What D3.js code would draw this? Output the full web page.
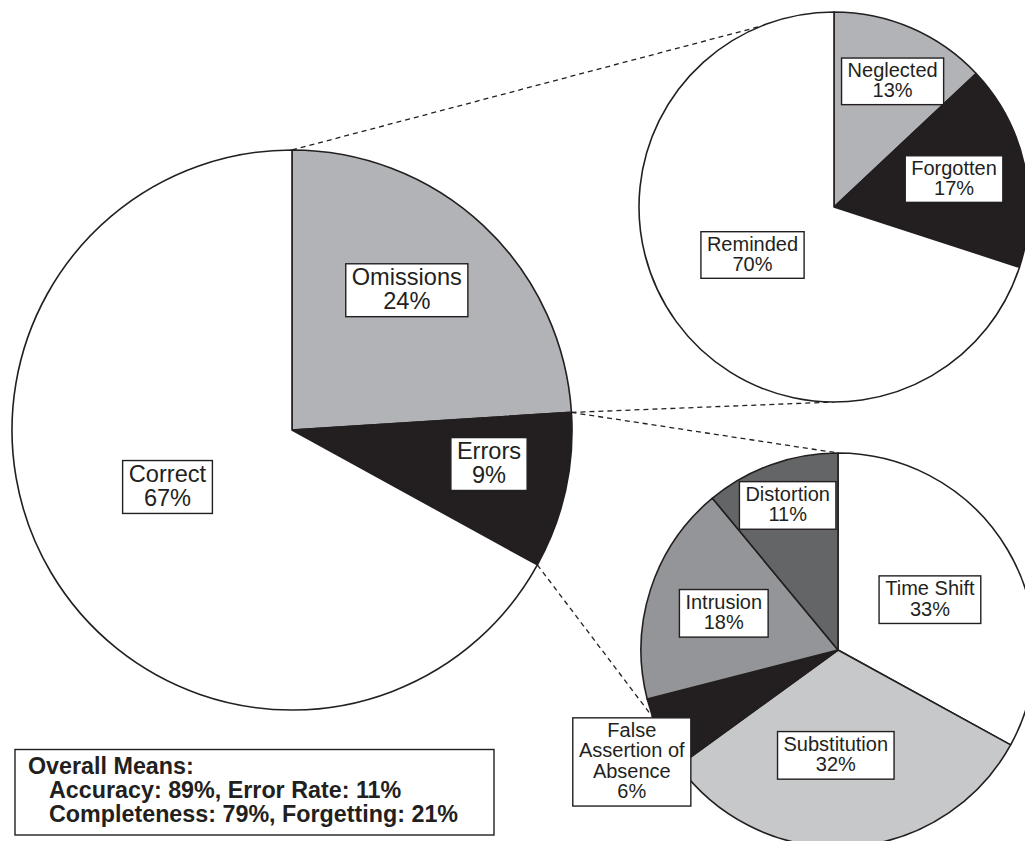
<!DOCTYPE html>
<html>
<head>
<meta charset="utf-8">
<script src="https://cdn.jsdelivr.net/npm/d3@7"></script>
<style>
  html, body { margin: 0; padding: 0; background: #fff; overflow: hidden; }
  text { font-family: "Liberation Sans", Arial, Helvetica, sans-serif; fill: #231f20; }
</style>
</head>
<body>
<svg id="chart" width="1025" height="841"></svg>
<script>
// ---- Data: recall outcomes and their breakdowns (percent) ----
const mainCategories = ["Omissions", "Errors", "Correct"];
const mainValues = [24, 9, 67];

const omissionCategories = ["Neglected", "Forgotten", "Reminded"];
const omissionValues = [13, 17, 70];

const errorCategories = ["Time Shift", "Substitution", "False Assertion of Absence", "Intrusion", "Distortion"];
const errorValues = [33, 32, 6, 18, 11];

const summaryTitle = "Overall Means:";
const summaryLines = ["Accuracy: 89%, Error Rate: 11%", "Completeness: 79%, Forgetting: 21%"];

// ---- Layout & style ----
const ink = "#231f20";
const lineBreaks = { "False Assertion of Absence": ["False", "Assertion of", "Absence"] };

const pies = [
  { id: "main", cats: mainCategories, vals: mainValues, cx: 292, cy: 430, r: 280,
    fills: ["#b1b3b6", ink, "#ffffff"], font: 23.6, lh: 24.2, boxExtra: 4.5,
    // label placement: [angle in degrees from 12 o'clock, fraction of radius]
    place: [[39.4, 0.646], [99.8, 0.714], [245.4, 0.489]] },
  { id: "omissions", cats: omissionCategories, vals: omissionValues, cx: 834, cy: 207, r: 195,
    fills: ["#b1b3b6", ink, "#ffffff"], font: 20, lh: 20.3, boxExtra: 6,
    place: [[25.0, 0.711], [76.9, 0.632], [239.5, 0.485]] },
  { id: "errors", cats: errorCategories, vals: errorValues, cx: 838, cy: 650, r: 197,
    fills: ["#ffffff", "#c7c8ca", ink, "#949598", "#646567"], font: 20, lh: 20.3, boxExtra: 7,
    place: [[61.3, 0.532], [181.2, 0.535], [241.5, 1.191], [287.8, 0.609], [340.8, 0.777]] }
];

const svg = d3.select("#chart");
const rad = d => d * Math.PI / 180;
const onCircle = (p, angleRad, rr) => [p.cx + (rr ?? p.r) * Math.sin(angleRad), p.cy - (rr ?? p.r) * Math.cos(angleRad)];

const pieGen = d3.pie().sort(null).value(d => d.value);
pies.forEach(p => {
  p.arcs = pieGen(p.cats.map((c, i) => ({ name: c, value: p.vals[i] })));
});
const [mainPie, omitPie, errPie] = pies;

// ---- Connectors from the main pie to the two breakdown pies ----
const omArc = mainPie.arcs[0], erArc = mainPie.arcs[1];
const connectors = [
  [onCircle(mainPie, omArc.startAngle), onCircle(omitPie, rad(338))],
  [onCircle(mainPie, omArc.endAngle), onCircle(omitPie, rad(180))],
  [onCircle(mainPie, erArc.startAngle), onCircle(errPie, rad(0))],
  [onCircle(mainPie, erArc.endAngle), onCircle(errPie, rad(250))]
];
svg.append("g").attr("class", "connectors")
  .selectAll("line").data(connectors).join("line")
  .attr("x1", d => d[0][0]).attr("y1", d => d[0][1])
  .attr("x2", d => d[1][0]).attr("y2", d => d[1][1])
  .attr("stroke", ink).attr("stroke-width", 1.3)
  .attr("stroke-dasharray", "5,4");

// ---- Pies ----
pies.forEach(p => {
  const arc = d3.arc().innerRadius(0).outerRadius(p.r);
  const g = svg.append("g").attr("class", "pie-" + p.id)
    .attr("transform", `translate(${p.cx},${p.cy})`);
  g.selectAll("path").data(p.arcs).join("path")
    .attr("d", arc)
    .attr("fill", (d, i) => p.fills[i])
    .attr("stroke", ink)
    .attr("stroke-width", 1.6)
    .attr("stroke-linejoin", "round");
});

// ---- Boxed labels ----
pies.forEach(p => {
  const lg = svg.append("g").attr("class", "labels-" + p.id);
  p.arcs.forEach((a, i) => {
    const [ang, frac] = p.place[i];
    const [x, y] = onCircle(p, rad(ang), p.r * frac);
    const lines = (lineBreaks[a.data.name] || [a.data.name]).concat([a.data.value + "%"]);
    const n = lines.length;
    const g = lg.append("g");
    const rect = g.append("rect");
    const t = g.append("text")
      .attr("text-anchor", "middle")
      .attr("font-size", p.font);
    lines.forEach((ln, k) => {
      t.append("tspan")
        .attr("x", x)
        .attr("y", y - (n * p.lh) / 2 + p.lh * (k + 0.78))
        .text(ln);
    });
    const bb = t.node().getBBox();
    const w = bb.width + 12;
    const h = n * p.lh + p.boxExtra;
    rect.attr("x", x - w / 2).attr("y", y - h / 2)
      .attr("width", w).attr("height", h)
      .attr("fill", "#fff").attr("stroke", ink).attr("stroke-width", 1.4);
  });
});

// ---- Summary box ----
const sg = svg.append("g").attr("class", "summary");
sg.append("rect")
  .attr("x", 15).attr("y", 749.5).attr("width", 479).attr("height", 85.5)
  .attr("fill", "#fff").attr("stroke", ink).attr("stroke-width", 1.4);
const st = sg.append("text").attr("font-size", 23.3).attr("font-weight", "bold");
st.append("tspan").attr("x", 28).attr("y", 774).text(summaryTitle);
summaryLines.forEach((ln, k) => {
  st.append("tspan").attr("x", 49).attr("y", 798 + k * 24).text(ln);
});
</script>
</body>
</html>
